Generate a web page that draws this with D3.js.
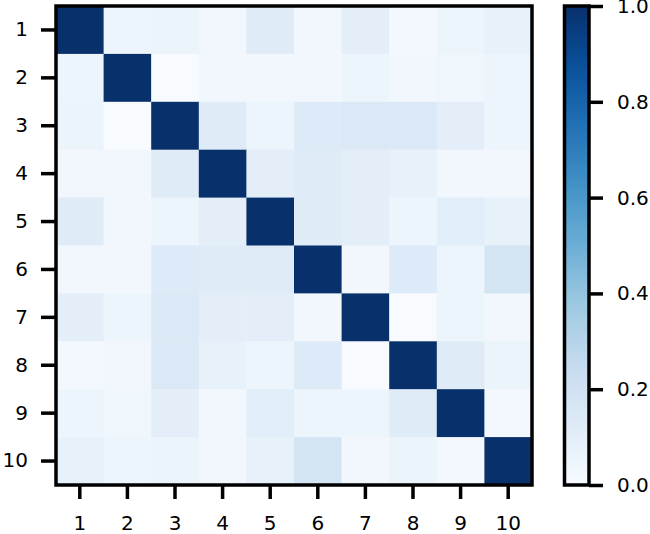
<!DOCTYPE html>
<html><head><meta charset="utf-8">
<script src="https://cdn.jsdelivr.net/npm/d3@7"></script>
<style>body{margin:0;background:#fff}svg{display:block}</style>
</head><body>
<svg id="c" width="650" height="534"></svg>
<script>
const labels = ['1','2','3','4','5','6','7','8','9','10'];
const row1  = [1.00,0.05,0.06,0.03,0.12,0.03,0.10,0.02,0.05,0.08];
const row2  = [0.05,1.00,0.00,0.03,0.03,0.03,0.05,0.03,0.04,0.05];
const row3  = [0.06,0.00,1.00,0.12,0.05,0.13,0.14,0.14,0.10,0.05];
const row4  = [0.03,0.03,0.12,1.00,0.10,0.12,0.10,0.08,0.03,0.03];
const row5  = [0.12,0.03,0.05,0.10,1.00,0.12,0.10,0.05,0.11,0.08];
const row6  = [0.03,0.03,0.13,0.12,0.12,1.00,0.03,0.13,0.05,0.18];
const row7  = [0.10,0.05,0.14,0.10,0.10,0.03,1.00,0.00,0.05,0.03];
const row8  = [0.02,0.03,0.14,0.08,0.05,0.13,0.00,1.00,0.12,0.06];
const row9  = [0.05,0.04,0.10,0.03,0.11,0.05,0.05,0.12,1.00,0.02];
const row10 = [0.08,0.05,0.06,0.03,0.08,0.18,0.03,0.06,0.02,1.00];
const matrix = [row1,row2,row3,row4,row5,row6,row7,row8,row9,row10];
const cbarTicks = [0,0.2,0.4,0.6,0.8,1.0];
const bluesStops = ['#f7fbff','#deebf7','#c6dbef','#9ecae1','#6baed6','#4292c6','#2171b5','#08519c','#08306b'];

const svg = d3.select('#c');
const font = 'DejaVu Sans, sans-serif';
const L = 56, R = 532, T = 6, B = 485;
const lw = 3.5;

const color = d3.scaleLinear()
  .domain(d3.range(bluesStops.length).map(i => i/(bluesStops.length-1)))
  .range(bluesStops).interpolate(d3.interpolateRgb).clamp(true);

const x = d3.scaleBand().domain(labels).range([L, R]);
const y = d3.scaleBand().domain(labels).range([T, B]);

const cells = [];
matrix.forEach((r,i) => r.forEach((v,j) => cells.push({r: labels[i], c: labels[j], v})));
svg.append('g').selectAll('rect').data(cells).join('rect')
  .attr('x', d => x(d.c)).attr('y', d => y(d.r))
  .attr('width', x.bandwidth()+0.5).attr('height', y.bandwidth()+0.5)
  .attr('fill', d => color(d.v));

svg.append('rect').attr('x', L).attr('y', T).attr('width', R-L).attr('height', B-T)
  .attr('fill','none').attr('stroke','#000').attr('stroke-width', lw);

function styleAxis(g){
  g.select('.domain').remove();
  g.selectAll('.tick line').attr('stroke','#000').attr('stroke-width', lw);
  g.selectAll('.tick text').attr('fill','#000').style('font-family', font).style('font-size','20px');
}

svg.append('g').attr('transform', `translate(${L},0)`)
  .call(d3.axisLeft(y).tickSize(15).tickPadding(13)).call(styleAxis);
svg.append('g').attr('transform', `translate(0,${B})`)
  .call(d3.axisBottom(x).tickSize(14).tickPadding(17)).call(styleAxis);

// colorbar
const cx0 = 564.5, cx1 = 589;
const cy = d3.scaleLinear().domain([0,1]).range([B, T]);
const defs = svg.append('defs');
const grad = defs.append('linearGradient').attr('id','cg')
  .attr('x1',0).attr('y1',1).attr('x2',0).attr('y2',0);
d3.range(0,1.0001,0.05).forEach(t => grad.append('stop').attr('offset', t).attr('stop-color', color(t)));
svg.append('rect').attr('x', cx0).attr('y', T).attr('width', cx1-cx0).attr('height', B-T)
  .attr('fill','url(#cg)').attr('stroke','#000').attr('stroke-width', lw);
svg.append('g').attr('transform', `translate(${cx1},0)`)
  .call(d3.axisRight(cy).tickValues(cbarTicks).tickFormat(d3.format('.1f')).tickSize(14).tickPadding(14))
  .call(styleAxis);
</script>
</body></html>
